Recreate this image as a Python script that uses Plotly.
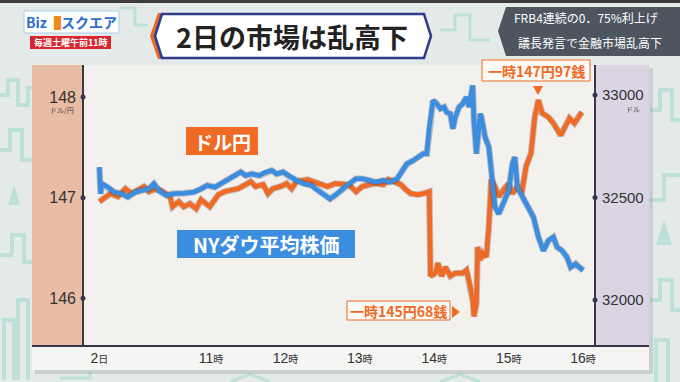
import plotly.graph_objects as go

# ---------------- data ----------------
yen_times = ["09:30", "09:39", "09:45", "09:51", "09:56", "10:02", "10:06", "10:10", "10:16", "10:21",
             "10:27", "10:29", "10:34", "10:38", "10:43", "10:48", "10:52", "10:59", "11:06", "11:11",
             "11:17", "11:22", "11:28", "11:32", "11:36", "11:42", "11:46", "11:50", "11:56", "12:01",
             "12:05", "12:09", "12:18", "12:29", "12:34", "12:40", "12:46", "12:51", "12:57", "13:02",
             "13:08", "13:13", "13:19", "13:23", "13:27", "13:33", "13:37", "13:41", "13:47", "13:52",
             "13:56", "13:57", "14:01", "14:03", "14:06", "14:09", "14:13", "14:17", "14:23", "14:26",
             "14:28", "14:31", "14:32", "14:34", "14:35", "14:37", "14:39", "14:42", "14:44", "14:46",
             "14:49", "14:52", "14:56", "15:00", "15:03", "15:07", "15:11", "15:14", "15:18", "15:21",
             "15:24", "15:27", "15:32", "15:36", "15:42", "15:46", "15:49", "15:53", "15:56", "15:59"]
yen_values = [146.96, 147.04, 147.01, 147.09, 147.04, 147.08, 147.11, 147.06, 147.09, 147.06,
              147.01, 146.91, 146.96, 146.91, 146.94, 146.89, 146.98, 146.91, 147.03, 147.06,
              147.08, 147.09, 147.13, 147.16, 147.11, 147.13, 147.04, 147.09, 147.11, 147.14,
              147.09, 147.16, 147.18, 147.14, 147.11, 147.14, 147.13, 147.13, 147.06, 147.11,
              147.13, 147.14, 147.13, 147.18, 147.16, 147.13, 147.08, 147.04, 147.03, 147.04,
              147.06, 146.22, 146.25, 146.35, 146.22, 146.31, 146.22, 146.25, 146.25, 146.28,
              146.18, 145.98, 145.82, 145.95, 146.51, 146.38, 146.45, 146.41, 146.71, 147.18,
              147.11, 147.01, 147.08, 147.14, 147.04, 147.11, 147.08, 147.31, 147.44, 147.80,
              147.97, 147.84, 147.80, 147.74, 147.62, 147.71, 147.79, 147.74, 147.80, 147.85]

dow_times = ["09:30", "09:31", "09:32", "09:37", "09:42", "09:48", "09:53", "09:59", "10:04", "10:10",
             "10:14", "10:18", "10:24", "10:29", "10:38", "10:46", "10:52", "10:57", "11:03", "11:08",
             "11:14", "11:19", "11:24", "11:28", "11:33", "11:39", "11:44", "11:49", "11:53", "11:58",
             "12:04", "12:09", "12:15", "12:21", "12:26", "12:32", "12:36", "12:40", "12:46", "12:51",
             "12:57", "13:02", "13:08", "13:13", "13:19", "13:24", "13:30", "13:34", "13:38", "13:43",
             "13:47", "13:51", "13:54", "13:56", "13:59", "14:02", "14:05", "14:08", "14:10", "14:13",
             "14:15", "14:17", "14:20", "14:23", "14:26", "14:28", "14:31", "14:32", "14:34", "14:37",
             "14:38", "14:41", "14:44", "14:46", "14:49", "14:52", "14:56", "15:00", "15:03", "15:05",
             "15:07", "15:11", "15:15", "15:20", "15:24", "15:28", "15:32", "15:36", "15:39", "15:43",
             "15:47", "15:50", "15:54", "16:00"]
dow_values = [32648, 32518, 32567, 32550, 32526, 32518, 32502, 32526, 32534, 32542,
              32567, 32534, 32510, 32518, 32521, 32526, 32542, 32559, 32550, 32567,
              32591, 32607, 32624, 32607, 32615, 32607, 32624, 32632, 32615, 32624,
              32599, 32583, 32567, 32559, 32534, 32510, 32493, 32510, 32542, 32567,
              32591, 32591, 32583, 32575, 32583, 32575, 32591, 32624, 32664, 32680,
              32697, 32713, 32713, 32843, 32973, 32957, 32933, 32941, 32916, 32908,
              32835, 32892, 32941, 32957, 32989, 32941, 33046, 32876, 32713, 32908,
              32892, 32794, 32746, 32632, 32453, 32420, 32485, 32534, 32664, 32697,
              32550, 32502, 32453, 32404, 32307, 32241, 32290, 32307, 32258, 32241,
              32209, 32160, 32176, 32144]

x_tick_hours = [9.5, 11, 12, 13, 14, 15, 16]
x_tick_labels = ["2日", "11時", "12時", "13時", "14時", "15時", "16時"]
yen_ticks = [146, 147, 148]
dow_ticks = [32000, 32500, 33000]

# ---------------- helpers ----------------
W, H = 680, 382
L, R, T, B = 83, 595, 66, 346  # plot area in pixels


def to_hours(s):
    h, m = s.split(":")
    return int(h) + int(m) / 60.0


def PX(x):
    return (x - L) / (R - L)


def PY(y):
    return (B - y) / (B - T)


ORANGE = "#ee6a25"
BLUE = "#3a8ddf"
AXIS = "#3a3548"
FONT = "Liberation Sans, Noto Sans CJK JP, sans-serif"
JP = "Noto Sans CJK JP, sans-serif"

XR = [9.28, 16.16]
fig = go.Figure()

dow_x = [to_hours(t) for t in dow_times]
yen_x = [to_hours(t) for t in yen_times]
fig.add_trace(go.Scatter(x=dow_x, y=dow_values, yaxis="y2", mode="lines",
                         line=dict(color="rgba(20,40,80,0.28)", width=6.5), hoverinfo="skip"))
fig.add_trace(go.Scatter(x=dow_x, y=dow_values, yaxis="y2", mode="lines",
                         line=dict(color=BLUE, width=4.6), hoverinfo="skip"))
fig.add_trace(go.Scatter(x=yen_x, y=yen_values, yaxis="y", mode="lines",
                         line=dict(color="rgba(90,30,10,0.28)", width=6.5), hoverinfo="skip"))
fig.add_trace(go.Scatter(x=yen_x, y=yen_values, yaxis="y", mode="lines",
                         line=dict(color=ORANGE, width=4.6), hoverinfo="skip"))
# tick dots on axes
fig.add_trace(go.Scatter(x=[XR[0]] * len(yen_ticks), y=yen_ticks, mode="markers", cliponaxis=False,
                         marker=dict(color=AXIS, size=5), hoverinfo="skip"))
fig.add_trace(go.Scatter(x=[XR[1]] * len(dow_ticks), y=dow_ticks, yaxis="y2", mode="markers",
                         cliponaxis=False, marker=dict(color=AXIS, size=5), hoverinfo="skip"))

ticktext = [f"{s[:-1]}<span style='font-size:10px'>{s[-1]}</span>" for s in x_tick_labels]

shapes = []


def rect(x0, y0, x1, y1, fill, line=None, lw=0, layer="below"):
    shapes.append(dict(type="rect", xref="paper", yref="paper", x0=PX(x0), x1=PX(x1), y0=PY(y1), y1=PY(y0),
                       fillcolor=fill, line=dict(color=line or fill, width=lw), layer=layer))


def path(points, fill, line=None, lw=0, layer="below"):
    d = "M " + " L ".join(f"{PX(x):.5f},{PY(y):.5f}" for x, y in points) + " Z"
    shapes.append(dict(type="path", xref="paper", yref="paper", path=d, fillcolor=fill,
                       line=dict(color=line or fill, width=lw), layer=layer))


def poly(points, color, w):
    d = "M " + " L ".join(f"{PX(x):.5f},{PY(y):.5f}" for x, y in points)
    shapes.append(dict(type="path", xref="paper", yref="paper", path=d,
                       line=dict(color=color, width=w), layer="below"))


def hline(x0, x1, y, color, w):
    shapes.append(dict(type="line", xref="paper", yref="paper", x0=PX(x0), x1=PX(x1), y0=PY(y), y1=PY(y),
                       line=dict(color=color, width=w), layer="below"))


def vline(x, y0, y1, color, w):
    shapes.append(dict(type="line", xref="paper", yref="paper", x0=PX(x), x1=PX(x), y0=PY(y0), y1=PY(y1),
                       line=dict(color=color, width=w), layer="below"))


# faint background doodles
DOO = "rgba(120,205,190,0.35)"
poly([(0, 95), (8, 95), (8, 80), (18, 80), (18, 105), (28, 105), (28, 88), (34, 88)], DOO, 4)
poly([(0, 150), (10, 150), (10, 130), (22, 130), (22, 160), (34, 160)], DOO, 4)
path([(14, 185), (20, 205), (8, 205)], DOO)
poly([(0, 255), (12, 255), (12, 235), (24, 235), (24, 262), (34, 262)], DOO, 4)
poly([(4, 380), (4, 320), (14, 320), (14, 380)], DOO, 4)
poly([(18, 380), (18, 300), (28, 300), (28, 380)], DOO, 4)
poly([(650, 110), (660, 110), (660, 90), (672, 90), (672, 120), (680, 120)], DOO, 4)
poly([(650, 200), (664, 200), (664, 175), (680, 175)], DOO, 4)
path([(664, 220), (672, 245), (656, 245)], DOO)
poly([(650, 300), (660, 300), (660, 280), (672, 280), (672, 310), (680, 310)], DOO, 4)
poly([(656, 382), (656, 340), (668, 340), (668, 382)], DOO, 4)
poly([(120, 8), (135, 8), (135, 25), (148, 25)], DOO, 3)
poly([(440, 30), (455, 30), (455, 15), (470, 15), (470, 40), (490, 40)], DOO, 3)
poly([(60, 378), (90, 378), (90, 372)], DOO, 3)
poly([(230, 382), (250, 374), (270, 382)], DOO, 3)
poly([(440, 382), (460, 374), (480, 382)], DOO, 3)

# top strip
rect(0, 0, 680, 3, "#3c3c3c")
# panel shadow + panel
rect(35, 68, 653, 374, "rgba(120,130,130,0.25)")
rect(32, 65, 649, 370, "#f5f5f3")
rect(83, 65, 595, 346, "#f2f1ee")
rect(32, 65, 83, 346, "#e9bca4")
rect(595, 65, 649, 346, "#dad4e3")
vline(83, 65, 346, AXIS, 2)
vline(595, 65, 346, AXIS, 2)
hline(32, 649, 346, AXIS, 2)

# logo
rect(24, 11, 119, 33, "#ffffff", "#a9cbe8", 1)
rect(30, 36, 111, 49, "#d9262e")
# title hexagon
path([(150, 36), (158, 13), (163, 13), (156, 36), (163, 59), (158, 59)], "#e8662a")
path([(155, 36), (162, 14), (424, 14), (431, 36), (424, 58), (162, 58)], "#ffffff", "#2e3c8e", 2.5)
# right header box
path([(498, 31), (506, 7), (680, 7), (680, 56), (506, 56)], "#4d565f")
# series labels
rect(186, 127, 258, 155, ORANGE)
rect(177, 230, 355, 258, BLUE)
# callouts
rect(482, 60, 590, 81, "#fcfaf7", ORANGE, 1, layer="above")
path([(533, 86), (543, 86), (538, 95)], ORANGE, layer="above")
rect(347, 301, 450, 320, "#fcfaf7", ORANGE, 1, layer="above")
path([(452, 306), (452, 318), (460, 312)], ORANGE, layer="above")

annotations = []


def text(x, y, s, size, color, family=JP, xanchor="center", weight="normal"):
    annotations.append(dict(xref="paper", yref="paper", x=PX(x), y=PY(y), text=s, showarrow=False,
                            xanchor=xanchor, yanchor="middle",
                            font=dict(size=size, color=color, family=family, weight=weight)))


text(71, 22, "<span style='color:#2a6bd1'>Biz</span><span style='color:#f0891d'>▐</span>"
             "<span style='color:#2a6bd1'>スクエア</span>", 14, "#2a6bd1", weight="bold")
text(70.5, 42.5, "毎週土曜午前11時", 9, "#ffffff", weight="bold")
text(292, 37, "2日の市場は乱高下", 27, "#222222", weight="bold")
text(586, 18, "FRB4連続の0．75%利上げ", 12, "#ffffff")
text(590, 42, "議長発言で金融市場乱高下", 12, "#ffffff")
text(222, 141, "ドル円", 19, "#ffffff", weight="bold")
text(266, 244, "NYダウ平均株価", 20, "#ffffff", weight="bold")
text(536, 71, "一時147円97銭", 14, ORANGE, weight="bold")
text(398.5, 311, "一時145円68銭", 14, ORANGE, weight="bold")
text(76, 110, "ドル/円", 7, "#444444", xanchor="right")
text(642, 109, "ドル", 7, "#444444", xanchor="right")

fig.update_layout(
    width=W, height=H, autosize=False,
    margin=dict(l=L, r=W - R, t=T, b=H - B, pad=0),
    paper_bgcolor="#e4eae8", plot_bgcolor="rgba(0,0,0,0)",
    showlegend=False,
    shapes=shapes, annotations=annotations,
    xaxis=dict(range=XR, tickvals=x_tick_hours, ticktext=ticktext, showgrid=False, zeroline=False,
               showline=False, ticks="", ticklabelstandoff=2,
               tickfont=dict(size=14, color="#333333", family=FONT), fixedrange=True),
    yaxis=dict(range=[145.526, 148.308], tickvals=yen_ticks, showgrid=False, zeroline=False,
               showline=False, ticks="", ticklabelstandoff=6,
               tickfont=dict(size=16, color="#333333", family=FONT)),
    yaxis2=dict(range=[31776, 33141], tickvals=dow_ticks, tickformat="d", overlaying="y", side="right",
                showgrid=False, zeroline=False, showline=False, ticks="", ticklabelstandoff=6,
                tickfont=dict(size=15, color="#333333", family=FONT)),
)

fig.write_html("out.html", config={"displayModeBar": False, "staticPlot": True},
               post_script="document.body.style.margin='0';")
